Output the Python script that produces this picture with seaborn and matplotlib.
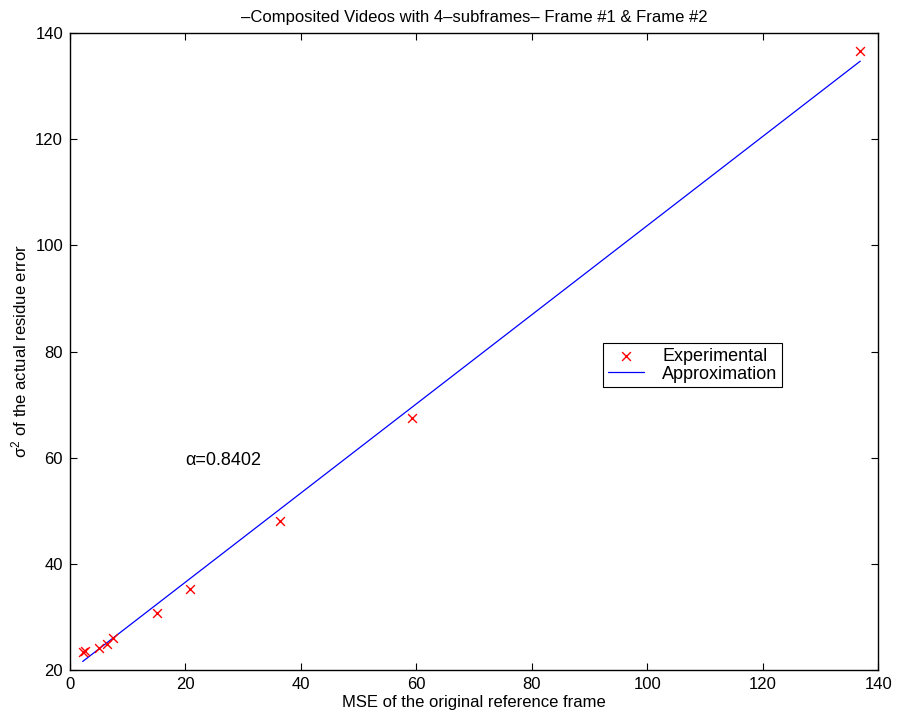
import numpy as np
import pandas as pd
import matplotlib
matplotlib.use("Agg")
import matplotlib.pyplot as plt
import seaborn as sns

# dados
mse_ref = [2.2, 2.6, 5.1, 6.5, 7.5, 15.0, 20.8, 36.3, 59.2, 136.9]
sigma2 = [23.3, 23.6, 24.1, 24.9, 26.0, 30.8, 35.2, 48.0, 67.4, 136.7]

# reta de aproximação (extremos)
approx_x = [2.2, 136.9]
approx_y = [21.6, 134.7]
alpha_txt = "\u03b1=0.8402"

x_ticks = [0, 20, 40, 60, 80, 100, 120, 140]
y_ticks = [20, 40, 60, 80, 100, 120, 140]

sns.set_style("ticks")
plt.rcParams['font.family'] = ['Liberation Sans', 'DejaVu Sans']
plt.rcParams['mathtext.fontset'] = 'custom'
plt.rcParams['mathtext.rm'] = 'Liberation Sans'
plt.rcParams['mathtext.it'] = 'Liberation Sans'
plt.rcParams['xtick.direction'] = 'in'
plt.rcParams['ytick.direction'] = 'in'
plt.rcParams['text.color'] = 'black'
plt.rcParams['axes.labelcolor'] = 'black'
plt.rcParams['xtick.labelcolor'] = 'black'
plt.rcParams['ytick.labelcolor'] = 'black'

exp_df = pd.DataFrame({"x": mse_ref, "y": sigma2})
fit_df = pd.DataFrame({"x": approx_x, "y": approx_y})

fig = plt.figure(figsize=(8.97, 7.24), dpi=100)
ax = fig.add_axes([0.078, 0.0746, 0.901, 0.8798])

sns.scatterplot(data=exp_df, x="x", y="y", ax=ax, marker="x", color="red",
                s=40, linewidth=1.0, label="Experimental", zorder=3)
sns.lineplot(data=fit_df, x="x", y="y", ax=ax, color="blue", linewidth=0.9,
             label="Approximation")

ax.set_xlim(0, 140)
ax.set_ylim(20, 140)
ax.set_xticks(x_ticks)
ax.set_yticks(y_ticks)
ax.tick_params(axis='both', labelsize=12, length=5, width=0.8, color='black',
               top=True, right=True, pad=5)
for s in ax.spines.values():
    s.set_linewidth(1.0)
    s.set_color('black')

ax.text(20, 59.5, alpha_txt, fontsize=13, va='center', ha='left')

ax.set_title("\u2013Composited Videos with 4\u2013subframes\u2013 Frame #1 & Frame #2",
             fontsize=12, pad=8)
ax.set_xlabel("MSE of the original reference frame", fontsize=12, labelpad=2)
ax.set_ylabel(r"$\sigma^2$ of the actual residue error", fontsize=12, labelpad=4)

leg = ax.legend(loc='upper left', bbox_to_anchor=(0.66, 0.513), borderaxespad=0,
                fontsize=13, fancybox=False, framealpha=1, edgecolor='black',
                handlelength=2.0, handletextpad=1.0, borderpad=0.25,
                labelspacing=0.05)
leg.get_frame().set_linewidth(0.8)

fig.savefig("out.png", dpi=100)
